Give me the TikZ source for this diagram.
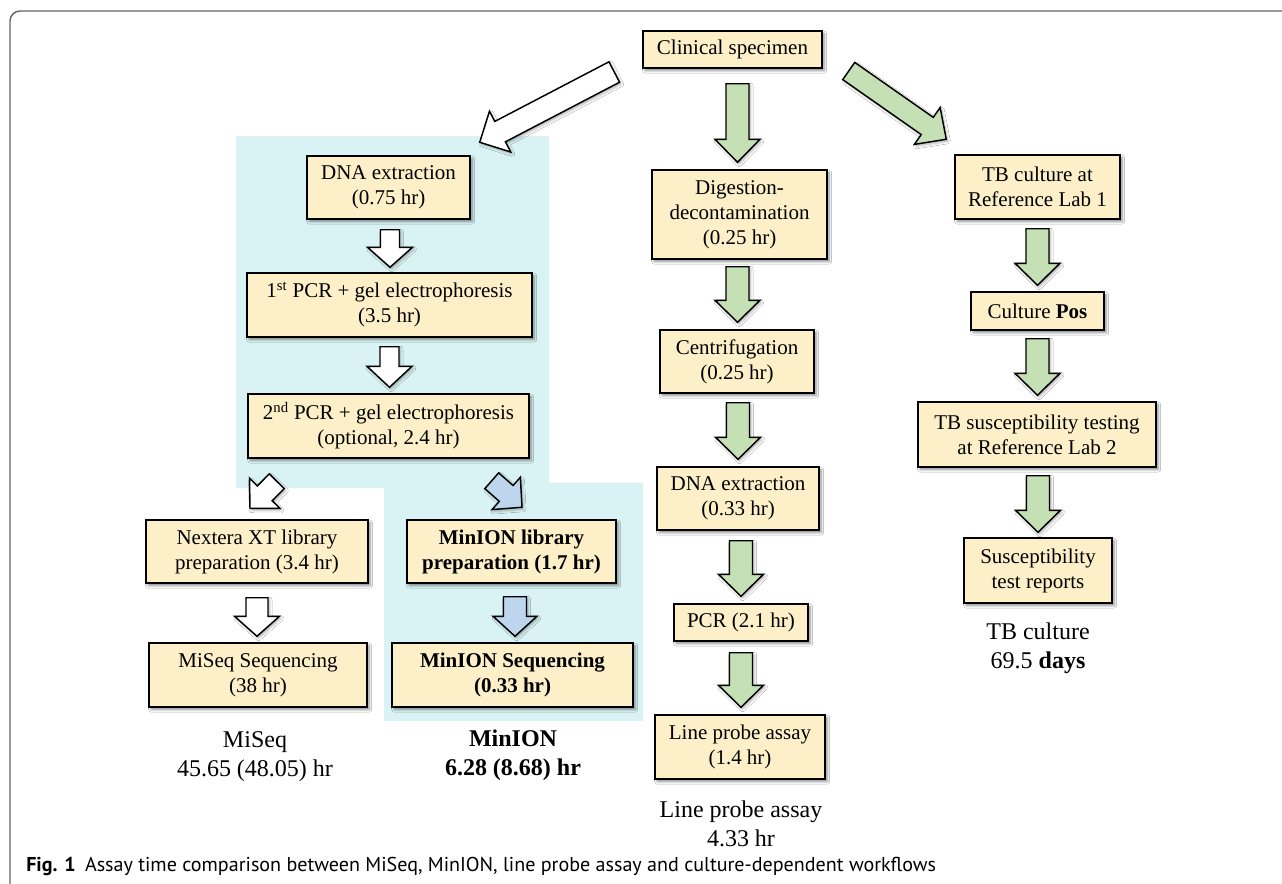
\documentclass[tikz,border=0pt]{standalone}
\usepackage{fontspec}
\setmainfont{Liberation Serif}
\newfontfamily\capfont{PT Sans}
\usetikzlibrary{calc,shadows.blur}
\definecolor{boxfill}{RGB}{253,240,200}
\definecolor{cyanbg}{RGB}{217,242,243}
\definecolor{arrgreen}{RGB}{197,224,180}
\definecolor{arrblue}{RGB}{189,214,238}
\definecolor{framegray}{RGB}{100,100,100}
% block arrow: #1 style, #2 start, #3 tip, #4 shaft width, #5 head width, #6 head length (px)
\newcommand\blockarr[6]{%
  \path[#1] let \p1=#2, \p2=#3,
    \n1={atan2(\y2-\y1,\x2-\x1)},
    \n2={veclen(\x2-\x1,\y2-\y1)-#6*0.75},
    \n3={#4*0.375}, \n4={#5*0.375} in
    ($(\p1)+({\n1+90}:{\n3*1pt})$) --
    ($(\p1)+(\n1:{\n2*1pt})+({\n1+90}:{\n3*1pt})$) --
    ($(\p1)+(\n1:{\n2*1pt})+({\n1+90}:{\n4*1pt})$) --
    (\p2) --
    ($(\p1)+(\n1:{\n2*1pt})+({\n1-90}:{\n4*1pt})$) --
    ($(\p1)+(\n1:{\n2*1pt})+({\n1-90}:{\n3*1pt})$) --
    ($(\p1)+({\n1-90}:{\n3*1pt})$) -- cycle;}
\begin{document}
\begin{tikzpicture}[x=0.75pt,y=-0.75pt,
  box/.style 2 args={draw=black, line width=1.1pt, fill=boxfill, align=center,
    inner sep=0pt, minimum width={#1*0.75pt}, minimum height={#2*0.75pt},
    font=\fontsize{15.75}{18.75}\selectfont,
    blur shadow={shadow xshift=1.6pt, shadow yshift=-2pt, shadow blur steps=6, shadow opacity=45}},
  bold/.style={font=\fontsize{15.75}{18.75}\selectfont\bfseries},
  lbl/.style={align=center, inner sep=0pt, font=\fontsize{18}{21.75}\selectfont},
  barrow/.style={draw=black, line width=1.1pt, fill=#1, line join=miter,
    blur shadow={shadow xshift=1.2pt, shadow yshift=-1.5pt, shadow blur steps=4, shadow opacity=30}}]
\useasboundingbox (0,0) rectangle (1282,883);
\fill[white] (0,0) rectangle (1282,883);
% frame
\draw[framegray, line width=1.1pt, rounded corners=7.5pt] (1295,11) -- (10,11) -- (10,895);
% shaded region
\fill[cyanbg] (236,136) -- (549,136) -- (549,483) -- (643,483) -- (643,721)
  -- (384,721) -- (384,488) -- (236,488) -- cycle;
% boxes
\node[box={179}{37}] (clin) at (732.5,49.5) {Clinical specimen};
\node[box={163}{63}] (dna1) at (388.5,187.5) {DNA extraction\\(0.75 hr)};
\node[box={285}{64}] (pcr1) at (389.5,305) {1\textsuperscript{st} PCR + gel electrophoresis\\(3.5 hr)};
\node[box={281}{64}] (pcr2) at (388.5,426) {2\textsuperscript{nd} PCR + gel electrophoresis\\(optional, 2.4 hr)};
\node[box={222}{63}] (nxt) at (257,551.5) {Nextera XT library\\preparation (3.4 hr)};
\node[box={218}{64}] (miseq) at (258,675) {MiSeq Sequencing\\(38 hr)};
\node[box={209}{63}, bold] (mlib) at (511.5,551.5) {MinION library\\preparation (1.7 hr)};
\node[box={241}{64}, bold] (mseq) at (512.5,675) {MinION Sequencing\\(0.33 hr)};
\node[box={175}{89}] (dig) at (739.5,214.5) {Digestion-\\decontamination\\(0.25 hr)};
\node[box={154}{63}] (cent) at (737,361.5) {Centrifugation\\(0.25 hr)};
\node[box={162}{63}] (dna2) at (738,498.5) {DNA extraction\\(0.33 hr)};
\node[box={134}{37}] (pcr3) at (741,622.5) {PCR (2.1 hr)};
\node[box={170}{64}] (lpa) at (740,747) {Line probe assay\\(1.4 hr)};
\node[box={165}{64}] (tb1) at (1037.5,187) {TB culture at\\Reference Lab 1};
\node[box={133}{38}] (pos) at (1037.5,311) {Culture \textbf{Pos}};
\node[box={238}{65}] (tbs) at (1037,434.5) {TB susceptibility testing\\at Reference Lab 2};
\node[box={148}{65}] (rep) at (1038,570.5) {Susceptibility\\test reports};
% summary labels
\node[lbl] (lmiseq) at (255,757) {MiSeq\\45.65 (48.05) hr};
\node[lbl, font=\fontsize{18}{21.75}\selectfont\bfseries] (lminion) at (513,755.5) {MinION\\6.28 (8.68) hr};
\node[lbl] (llpa) at (741,824) {Line probe assay\\4.33 hr};
\node[lbl] (ltb) at (1038,648.5) {TB culture\\69.5 \textbf{days}};
% arrows
\blockarr{barrow=white}{($(clin.west)+(-28,22.5)$)}{($(dna1.north east)+(9,-13)$)}{23}{46}{23}
\blockarr{barrow=arrgreen}{($(clin.east)+(26,21.5)$)}{($(tb1.north west)+(-8,-15)$)}{21}{45}{23}
\blockarr{barrow=white}{($(dna1.south)+(1.5,10)$)}{($(dna1.south |- pcr1.north)+(1.5,-5)$)}{19}{45}{20}
\blockarr{barrow=white}{($(pcr1.south)+(0,9)$)}{($(pcr1.south |- pcr2.north)+(0,-6)$)}{19}{45}{21}
\blockarr{barrow=white}{($(pcr2.south west)+(29.5,22.5)$)}{($(nxt.north)+(-7,-11)$)}{21}{43}{21}
\blockarr{barrow=arrblue}{($(pcr2.south east)+(-38,22)$)}{($(mlib.north)+(10.5,-12)$)}{21}{43}{21}
\blockarr{barrow=white}{($(nxt.south)+(0,14)$)}{($(nxt.south |- miseq.north)+(0,-6)$)}{22}{45}{20}
\blockarr{barrow=arrblue}{($(mlib.south)+(3.5,13)$)}{($(mlib.south |- mseq.north)+(3.5,-6)$)}{23}{44}{20}
\blockarr{barrow=arrgreen}{($(dig.north |- clin.south)+(-2,15)$)}{($(dig.north)+(-2,-7)$)}{23}{45}{23}
\blockarr{barrow=arrgreen}{($(dig.south)+(-2,7)$)}{($(dig.south |- cent.north)+(-2,-7)$)}{23}{45}{22}
\blockarr{barrow=arrgreen}{($(cent.south)+(1,9)$)}{($(cent.south |- dna2.north)+(1,-7)$)}{23}{45}{22}
\blockarr{barrow=arrgreen}{($(pcr3.north |- dna2.south)+(0,10)$)}{($(pcr3.north)+(0,-7)$)}{23}{45}{22}
\blockarr{barrow=arrgreen}{($(pcr3.south)+(0,11)$)}{($(pcr3.south |- lpa.north)+(0,-7)$)}{23}{45}{22}
\blockarr{barrow=arrgreen}{($(tb1.south)+(0,9)$)}{($(tb1.south |- pos.north)+(0,-6)$)}{23}{45}{22}
\blockarr{barrow=arrgreen}{($(pos.south)+(0,8)$)}{($(pos.south |- tbs.north)+(0,-6)$)}{23}{45}{22}
\blockarr{barrow=arrgreen}{($(rep.north |- tbs.south)+(0,8)$)}{($(rep.north)+(0,-5)$)}{23}{45}{22}
% caption
\node[anchor=west, inner sep=0pt, font=\capfont\fontsize{15.05}{18}\selectfont] (cap) at (26,866)
  {\textbf{Fig. 1}\hspace{7pt}Assay time comparison between MiSeq, MinION, line probe assay and culture-dependent workflows};
\end{tikzpicture}
\end{document}
